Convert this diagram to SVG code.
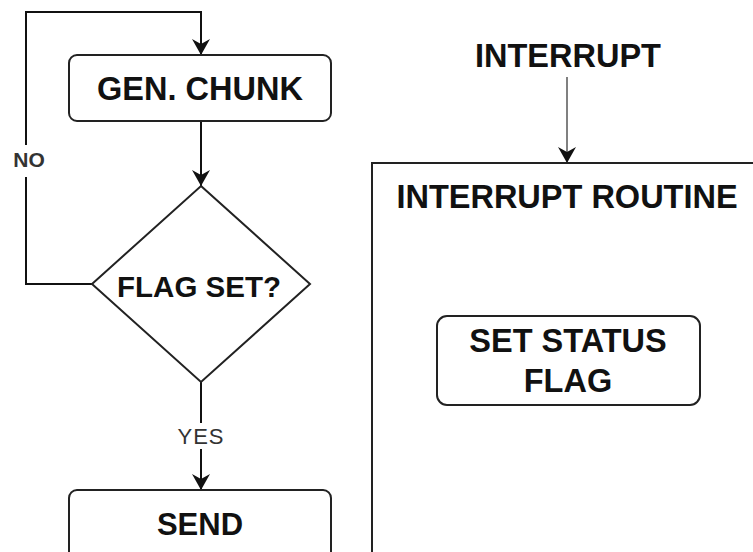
<svg xmlns="http://www.w3.org/2000/svg" width="753" height="552" viewBox="0 0 753 552">
  <defs>
    <marker id="arrow" markerUnits="userSpaceOnUse" markerWidth="18" markerHeight="18" viewBox="0 0 18 18" refX="16" refY="9" orient="auto">
      <path d="M0,0 L16,9 L0,18 L5,9 Z" fill="#111"/>
    </marker>
  </defs>
  <style>
    .box { fill: #fff; stroke: #222; stroke-width: 2; }
    .edge { fill: none; stroke: #111; stroke-width: 2; }
    .lbl { font-family: "Liberation Sans", Arial, sans-serif; font-weight: bold; font-size: 32.5px; fill: #111; text-anchor: middle; }
    .small { font-family: "Liberation Sans", Arial, sans-serif; font-size: 22px; fill: #333; text-anchor: middle; }
  </style>
  <rect width="753" height="552" fill="#fff"/>

  <!-- connectors -->
  <g id="connectors">
    <path class="edge" d="M92,284 L26,284 L26,12 L201,12 L201,55" marker-end="url(#arrow)"/>
    <path class="edge" d="M201,121 L201,186" marker-end="url(#arrow)"/>
    <path class="edge" d="M201,382 L201,490" marker-end="url(#arrow)"/>
    <path class="edge" d="M567,77 L567,163" style="stroke:#808080" marker-end="url(#arrow)"/>
    <!-- edge labels -->
    <rect x="8" y="145" width="40" height="32" fill="#fff"/>
    <text class="small" x="29" y="167" style="font-weight:bold;font-size:21px">NO</text>
    <rect x="174" y="423" width="54" height="26" fill="#fff"/>
    <text class="small" x="201" y="444" letter-spacing="1">YES</text>
  </g>

  <!-- generate chunk -->
  <g id="gen-chunk">
    <rect class="box" x="69" y="55" width="262" height="66" rx="8"/>
    <text class="lbl" x="200" y="100">GEN. CHUNK</text>
  </g>

  <!-- decision -->
  <g id="flag-set">
    <path class="box" d="M201,186 L310,284 L201,382 L92,284 Z"/>
    <text class="lbl" x="199" y="297" style="font-size:29.5px">FLAG SET?</text>
  </g>

  <!-- send -->
  <g id="send">
    <rect class="box" x="69" y="490" width="262" height="80" rx="8"/>
    <text class="lbl" x="200" y="535" style="font-size:31px">SEND</text>
  </g>

  <!-- interrupt source -->
  <g id="interrupt">
    <text class="lbl" x="568" y="67">INTERRUPT</text>
  </g>

  <!-- interrupt routine container -->
  <g id="interrupt-routine">
    <rect class="box" x="372" y="163" width="400" height="420"/>
    <text class="lbl" x="567" y="208">INTERRUPT ROUTINE</text>
  </g>

  <!-- set status flag -->
  <g id="set-status-flag">
    <rect class="box" x="437" y="316" width="263" height="89" rx="10"/>
    <text class="lbl" x="568" y="352">SET STATUS</text>
    <text class="lbl" x="568" y="392">FLAG</text>
  </g>
</svg>
